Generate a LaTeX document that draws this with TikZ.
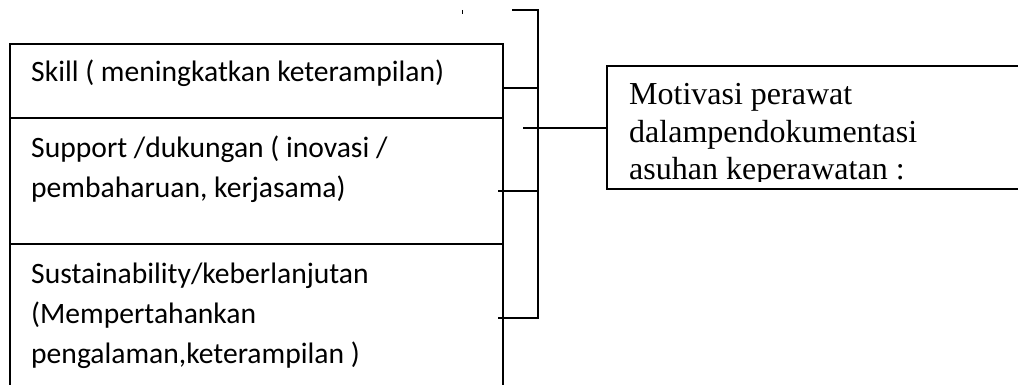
\documentclass[tikz,border=0pt]{standalone}
\usepackage{fontspec}
\newfontfamily\motsans{Carlito}
\newfontfamily\motserif{Liberation Serif}
\tikzset{
  mot line/.style={black,line width=1.6pt},
  mot item/.style={anchor=base west,inner sep=0pt,align=left,
    font=\motsans\fontsize{29.6}{40}\selectfont},
  mot goal/.style={anchor=base west,inner sep=0pt,align=left,
    font=\motserif\fontsize{32}{37}\selectfont}
}

\begin{document}
\begin{tikzpicture}[x=1pt,y=-1pt]
  \useasboundingbox (0,0) rectangle (1018,385);
  % left column (node base = last line)
  \draw[mot line] (10,385)--(10,44)--(503,44)--(503,385)
    (10,118)--(503,118) (10,244)--(503,244);
  \node[mot item] (skill) at (31,82) {Skill ( meningkatkan keterampilan)};
  \node[mot item] (support) at (31,197) {Support /dukungan ( inovasi /\\pembaharuan, kerjasama)};
  \node[mot item] (sustain) at (31,363) {Sustainability/keberlanjutan\\(Mempertahankan\\pengalaman,keterampilan )};
  % right box
  \draw[mot line] (1020,66)--(607,66)--(607,189)--(1020,189);
  \begin{scope}
    \clip (607,66) rectangle (1018,182);
    \node[mot goal] (motiv) at (629,179) {Motivasi perawat\\dalampendokumentasi\\asuhan keperawatan :};
  \end{scope}
  % bracket
  \coordinate (br top) at (538,10);
  \coordinate (br bot) at (538,318);
  \coordinate (br start) at (512,10);
  \coordinate (skill e) at (503,88);
  \coordinate (support e) at (498,191);
  \coordinate (sustain e) at (498,318);
  \coordinate (mid w) at (523,128);
  \coordinate (motiv w) at (607,128);
  \draw[mot line] (br start)--(br top)--(br bot)--(sustain e);
  \draw[mot line] (skill e)--(skill e-|br top);
  \draw[mot line] (support e)--(support e-|br top);
  \draw[mot line] (mid w)--(motiv w);
  \draw[line width=1pt] (462,10)--(462,14);
\end{tikzpicture}
\end{document}
